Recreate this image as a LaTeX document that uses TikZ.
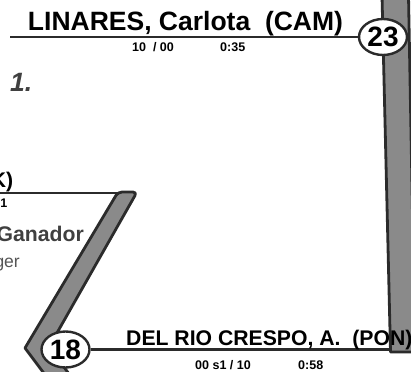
\documentclass[tikz,border=0pt]{standalone}
\usepackage{fontspec}
\setmainfont{Liberation Sans}
\usetikzlibrary{shapes.geometric}
\definecolor{barGrey}{HTML}{8A8A8A}
\definecolor{lineGrey}{HTML}{2B2B2B}
\definecolor{tagGrey}{HTML}{404040}
\definecolor{subGrey}{HTML}{555555}
\begin{document}
\begin{tikzpicture}
[x=1pt,y=-1pt,
  lineDecorate/.style={-,line width=2.6pt,draw=lineGrey},%
  barDecorate/.style={fill=barGrey,draw=lineGrey,line width=2.8pt,line join=round},%
  seedDecorate/.style={shape=ellipse,draw=lineGrey,line width=2.4pt,fill=white,inner sep=0pt,
    minimum width=48pt,minimum height=36pt,font=\bfseries\fontsize{28}{28}\selectfont},%
  nameDecorate/.style={inner sep=0pt,font=\bfseries\fontsize{21.2}{24}\selectfont},%
  scoreDecorate/.style={inner sep=0pt,anchor=base west,font=\bfseries\fontsize{12.5}{14}\selectfont}]
\clip (0,0) rectangle (411,371);
%% bracket bars
\coordinate (leftStart) at (0,193);
\coordinate (leftEnd) at (120,193);
\draw[lineDecorate] (leftStart) -- (leftEnd);
\draw[barDecorate] (382,-4) -- (390.5,352) -- (415,352) -- (408.5,-4) -- cycle;
\draw[barDecorate] (118,192) -- (25,348) -- (58,392) -- (82.5,392) -- (49,347)
  [rounded corners=4pt] -- (137,192) -- cycle;
%% seeds and lines
\node (seedTop) at (383,37) [seedDecorate] {23};
\node (seedBot) at (65.5,349.5) [seedDecorate] {18};
\coordinate (topStart) at (10,37);
\coordinate (botEnd) at (391,349.5);
\draw[lineDecorate] (topStart) -- (seedTop.west);
\draw[lineDecorate] (seedBot.east) -- (botEnd);
%% names
\node (topName) at (185.5,31) [nameDecorate,anchor=base,font=\bfseries\fontsize{26.5}{30}\selectfont] {LINARES, Carlota\ \ (CAM)};
\node (botName) at (126,345) [nameDecorate,anchor=base west] {DEL RIO CRESPO, A.\ \ (PON)};
\node (leftName) at (13.5,187) [nameDecorate,anchor=base east] {K)};
%% scores
\foreach \labelname/\x/\y/\score in {
  topScore/132/52/{10\ \ / 00}, topTime/220/52/{0:35},
  botScore/195/369/{00 s1 / 10}, botTime/298/369/{0:58}}
{
  \node (\labelname) at (\x,\y) [scoreDecorate] {\score};
}
\node (leftScore) at (7.5,207.5) [scoreDecorate,anchor=base east] {01};
%% round and tags
\node (roundNo) at (10,92) [anchor=base west,inner sep=0pt,text=tagGrey,
  font=\bfseries\itshape\fontsize{26.5}{30}\selectfont] {1.};
\node (leftTag) at (84,241) [nameDecorate,anchor=base east,text=tagGrey] {Ganador};
\node (leftSub) at (20,267) [anchor=base east,inner sep=0pt,text=subGrey,
  font=\fontsize{17.5}{20}\selectfont] {ger};
\end{tikzpicture}
\end{document}
